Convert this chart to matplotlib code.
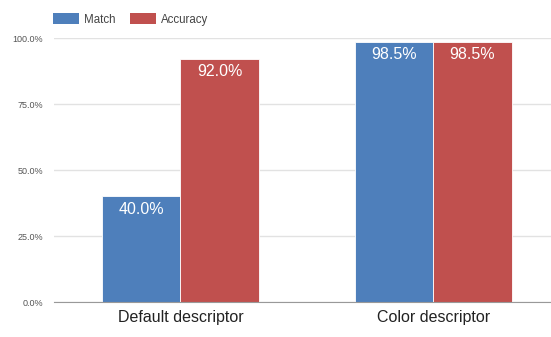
import matplotlib
matplotlib.use("Agg")
import matplotlib.pyplot as plt
from matplotlib.patches import Patch

categories = ["Default descriptor", "Color descriptor"]
series_names = ["Match", "Accuracy"]
match_vals = [40.0, 98.5]
accuracy_vals = [92.0, 98.5]
y_ticks = [0, 25, 50, 75, 100]
y_tick_labels = ["0.0%", "25.0%", "50.0%", "75.0%", "100.0%"]

colors = ["#4e7fbb", "#c0504e"]
plt.rcParams["font.family"] = ["Liberation Sans", "DejaVu Sans"]

fig = plt.figure(figsize=(5.51, 3.37), dpi=100)
ax = fig.add_axes([54 / 551, 1 - 302 / 337, 1 - 54 / 551, (302 - 38) / 337])

w = 0.31
x = list(range(len(categories)))
for offset, vals, col in [(-w / 2, match_vals, colors[0]), (w / 2, accuracy_vals, colors[1])]:
    xs = [xi + offset for xi in x]
    ax.bar(xs, vals, width=w, color=col, edgecolor="white", linewidth=0.6, zorder=3)
    for xi, v in zip(xs, vals):
        ax.text(xi, v - 2.0, f"{v:.1f}%", ha="center", va="top", color="white",
                fontsize=11.5, zorder=4)

ax.set_xlim(-0.5, 1.466)
ax.set_ylim(0, 100)
ax.set_yticks(y_ticks)
ax.set_yticklabels(y_tick_labels, fontsize=6.5, color="#555555")
ax.set_xticks(x)
ax.set_xticklabels(categories, fontsize=11.5, color="#222222")
ax.tick_params(axis="both", length=0)
ax.tick_params(axis="y", pad=8)
ax.tick_params(axis="x", pad=6)
ax.grid(axis="y", color="#e2e2e2", linewidth=1, zorder=0)
for s in ["top", "right", "left"]:
    ax.spines[s].set_visible(False)
ax.spines["bottom"].set_color("#999999")
ax.spines["bottom"].set_zorder(5)

handles = [Patch(facecolor=c, label=n) for c, n in zip(colors, series_names)]
fig.legend(handles=handles, loc="upper left", bbox_to_anchor=(43 / 551, 1 - 3 / 337),
           ncol=2, frameon=False, fontsize=8.3, handlelength=2.2, handleheight=1.05,
           columnspacing=1.3, handletextpad=0.45, labelcolor="#444444")

fig.savefig("out.png", dpi=100, facecolor="white")
